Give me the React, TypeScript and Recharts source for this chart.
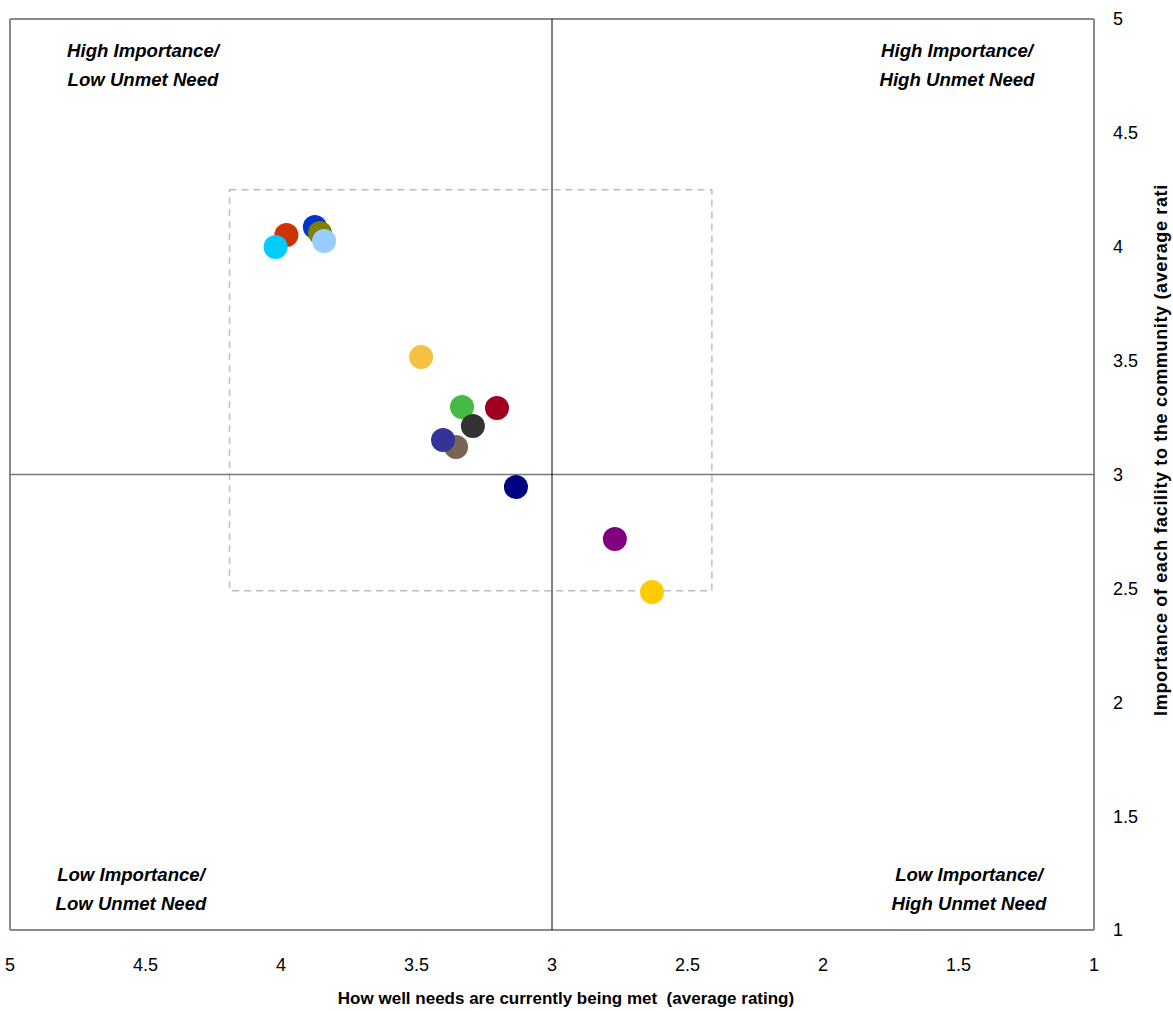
import React from 'react';
import {
  ScatterChart,
  Scatter,
  XAxis,
  YAxis,
  ReferenceLine,
  ReferenceArea,
  Cell
} from 'recharts';

// how well needs are met (x, reversed axis) vs importance (y)
const MET = [3.98, 4.02, 3.875, 3.856, 3.841, 3.483, 3.332, 3.203, 3.292, 3.354, 3.402, 3.133, 2.768, 2.631];
const IMPORTANCE = [4.052, 3.999, 4.087, 4.06, 4.025, 3.516, 3.296, 3.292, 3.213, 3.121, 3.151, 2.945, 2.717, 2.484];
const COLORS = [
  '#CC3300', '#00CCFF', '#0033CC', '#808000', '#99CCFF', '#F4C142', '#44BB44',
  '#A00020', '#333333', '#776655', '#333399', '#000080', '#800080', '#FFCC00'
];
const TICKS = [5, 4.5, 4, 3.5, 3, 2.5, 2, 1.5, 1];

const QUADRANTS = [
  { lines: ['High Importance/', 'Low Unmet Need'], cx: 143, top: 36 },
  { lines: ['High Importance/', 'High Unmet Need'], cx: 957, top: 36 },
  { lines: ['Low Importance/', 'Low Unmet Need'], cx: 131, top: 860 },
  { lines: ['Low Importance/', 'High Unmet Need'], cx: 969, top: 860 },
];

const points = MET.map((x, i) => ({ x, y: IMPORTANCE[i] }));

const tickFont = { fill: '#000', fontSize: 18, fontFamily: '"Liberation Sans Narrow", "Liberation Sans", Arial, sans-serif' };

export default function App() {
  return (
    <div style={{ position: 'absolute', left: 0, top: 0, width: 1173, height: 1011, background: '#fff' }}>
      <ScatterChart width={1173} height={1011} margin={{ top: 19, right: 19, left: 10, bottom: 31 }}>
        <XAxis
          type="number"
          dataKey="x"
          domain={[1, 5]}
          reversed
          ticks={TICKS}
          axisLine={false}
          tickLine={false}
          tick={tickFont}
          tickMargin={22}
          height={50}
          label={({ viewBox }: any) => (
            <text
              x={viewBox.x + viewBox.width / 2 + 14}
              y={1004}
              textAnchor="middle"
              fontSize={17}
              fontWeight="bold"
              fontFamily='"Liberation Sans Narrow", "Liberation Sans", Arial, sans-serif'
              fill="#000"
            >
              {'How well needs are currently being met\u00A0 (average rating)'}
            </text>
          )}
        />
        <YAxis
          type="number"
          dataKey="y"
          orientation="right"
          domain={[1, 5]}
          ticks={TICKS}
          axisLine={false}
          tickLine={false}
          tick={{ ...tickFont, textAnchor: 'start' } as any}
          tickMargin={13}
          width={60}
          label={() => (
            <text
              x={0}
              y={0}
              transform="translate(1167, 450) rotate(-90)"
              textAnchor="middle"
              fontSize={18}
              fontWeight="bold"
              letterSpacing={0.65}
              fontFamily='"Liberation Sans", Arial, sans-serif'
              fill="#000"
            >
              Importance of each facility to the community (average rati
            </text>
          )}
        />
        <ReferenceLine x={5} stroke="#8a8a8a" strokeWidth={2} />
        <ReferenceLine x={1} stroke="#8a8a8a" strokeWidth={2} />
        <ReferenceLine y={5} stroke="#8a8a8a" strokeWidth={2} />
        <ReferenceLine y={1} stroke="#8a8a8a" strokeWidth={2} />
        <ReferenceLine y={3} stroke="#777" strokeWidth={1.5} />
        <ReferenceLine x={3} stroke="#000" strokeWidth={1} />
        <ReferenceArea
          x1={4.19}
          x2={2.41}
          y1={2.49}
          y2={4.25}
          fill="none"
          fillOpacity={0}
          stroke="#bdbdbd"
          strokeWidth={1.5}
          strokeDasharray="7 5"
        />
        <Scatter
          data={points}
          isAnimationActive={false}
          shape={(p: any) => <circle cx={p.cx} cy={p.cy} r={12} fill={p.fill} />}
        >
          {points.map((_, i) => (
            <Cell key={`pt-${i}`} fill={COLORS[i]} />
          ))}
        </Scatter>
      </ScatterChart>
      {QUADRANTS.map((q, i) => (
        <div
          key={i}
          style={{
            position: 'absolute',
            left: q.cx - 120,
            width: 240,
            top: q.top,
            textAlign: 'center',
            fontFamily: '"Liberation Sans", Arial, sans-serif',
            fontWeight: 'bold',
            fontStyle: 'italic',
            fontSize: 18.6,
            lineHeight: '29px',
            color: '#000',
          }}
        >
          {q.lines.map((l) => (
            <div key={l}>{l}</div>
          ))}
        </div>
      ))}
    </div>
  );
}
